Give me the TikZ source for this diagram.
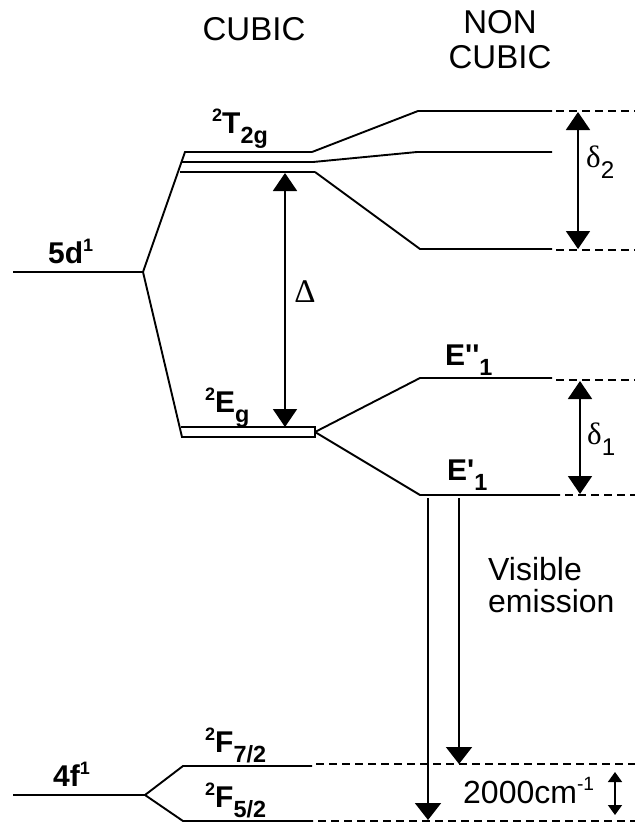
\documentclass[tikz,border=0pt]{standalone}
\usepackage{fontspec}
\usepackage{graphicx}
\setmainfont{Liberation Sans}
\newfontfamily\greekfont{Liberation Serif}
\usetikzlibrary{arrows.meta}
% raised / lowered small indices for term symbols
\newcommand{\hi}[1]{\raisebox{0.40em}{\scalebox{0.6}{#1}}}
\newcommand{\lo}[1]{\raisebox{-0.36em}{\scalebox{0.78}{#1}}}
\begin{document}
\begin{tikzpicture}[x=1pt,y=-1pt,
  level/.style={line width=1.9pt, line join=miter},
  guide/.style={line width=1.6pt, dash pattern=on 8pt off 5pt},
  gap/.style={line width=1.9pt,
    {Triangle[width=24pt,length=18pt]}-{Triangle[width=24pt,length=18pt]}},
  emit/.style={line width=1.9pt, -{Triangle[width=26pt,length=17pt]}},
  small/.style={line width=1.6pt,
    {Triangle[width=14pt,length=10pt]}-{Triangle[width=14pt,length=10pt]}},
  term/.style={font=\fontsize{30}{36}\selectfont\bfseries, inner sep=0pt, anchor=base west},
  head/.style={font=\fontsize{33}{38}\selectfont, inner sep=0pt},
  greek/.style={font=\fontsize{31}{36}\selectfont\greekfont, inner sep=0pt},
  note/.style={font=\fontsize{32}{36}\selectfont, inner sep=0pt, anchor=base west}
]
\useasboundingbox (0,0) rectangle (635,825);

% ---- column headings
\node[head] (hcub) at (254,29) {CUBIC};
\node[head] (hnon1) at (500,22) {NON};
\node[head] (hnon2) at (500,57) {CUBIC};

% ---- free-ion 5d level and its cubic splitting
\coordinate (d5a) at (13,272);  \coordinate (d5b) at (143,272);
\coordinate (t1a) at (185,152); \coordinate (t1b) at (312,152);
\coordinate (t2a) at (182,162); \coordinate (t2b) at (313,162);
\coordinate (t3a) at (180,172); \coordinate (t3b) at (315,172);
\coordinate (e1a) at (181,427); \coordinate (e1b) at (315,427);
\coordinate (e2a) at (182,437); \coordinate (e2b) at (315,437);
\coordinate (efork) at (315,432);

\draw[level] (d5a) -- (d5b);
\draw[level] (d5b) -- (t1a) -- (t1b);
\draw[level] (t2a) -- (t2b);
\draw[level] (t3a) -- (t3b);
\draw[level] (d5b) -- (e2a) -- (e2b) -- (e1b) -- (e1a);

% ---- non-cubic levels from 2T2g
\coordinate (u1a) at (418,111); \coordinate (u1b) at (552,111);
\coordinate (u2a) at (417,152); \coordinate (u2b) at (552,152);
\coordinate (u3a) at (420,249); \coordinate (u3b) at (552,249);
\coordinate (u1c) at (556,111); \coordinate (u1g) at (635,111);
\coordinate (u3c) at (556,250); \coordinate (u3g) at (635,250);
\draw[level] (t1b) -- (u1a) -- (u1b);
\draw[level] (t2b) -- (u2a) -- (u2b);
\draw[level] (t3b) -- (u3a) -- (u3b);
\draw[guide] (u1c) -- (u1g);
\draw[guide] (u3c) -- (u3g);

% ---- non-cubic levels from 2Eg
\coordinate (v1a) at (420,378); \coordinate (v1b) at (552,378);
\coordinate (v2a) at (420,495); \coordinate (v2b) at (560,495);
\coordinate (v1c) at (556,380); \coordinate (v1g) at (635,380);
\coordinate (v2c) at (565,495); \coordinate (v2g) at (635,495);
\draw[level] (efork) -- (v1a) -- (v1b);
\draw[level] (efork) -- (v2a) -- (v2b);
\draw[guide] (v1c) -- (v1g);
\draw[guide] (v2c) -- (v2g);

% ---- 4f level and spin-orbit splitting
\coordinate (f4a) at (13,795);  \coordinate (f4b) at (145,795);
\coordinate (f7a) at (183,766); \coordinate (f7b) at (312,766);
\coordinate (f5a) at (183,821); \coordinate (f5b) at (313,821);
\coordinate (f7c) at (316,764); \coordinate (f7g) at (635,764);
\coordinate (f5c) at (318,821); \coordinate (f5g) at (635,821);
\draw[level] (f4a) -- (f4b);
\draw[level] (f4b) -- (f7a) -- (f7b);
\draw[level] (f4b) -- (f5a) -- (f5b);
\draw[guide] (f7c) -- (f7g);
\draw[guide] (f5c) -- (f5g);

% ---- energy gaps
\coordinate (Dt) at (285,173);  \coordinate (Db) at (285,427);
\coordinate (s2t) at (578,112); \coordinate (s2b) at (578,249);
\coordinate (s1t) at (580,381); \coordinate (s1b) at (580,494);
\coordinate (ct) at (615,772);  \coordinate (cb) at (615,815);
\draw[gap] (Dt) -- (Db);
\draw[gap] (s2t) -- (s2b);
\draw[gap] (s1t) -- (s1b);
\draw[small] (ct) -- (cb);

% ---- emission transitions
\coordinate (m1s) at (428,498); \coordinate (m1e) at (428,820);
\coordinate (m2s) at (459,498); \coordinate (m2e) at (459,764);
\draw[emit] (m1s) -- (m1e);
\draw[emit] (m2s) -- (m2e);

% ---- labels
\node[term] (l5d) at (48,263) {5d\hi{1}};
\node[term] (lt2g) at (212,133) {\hi{2}T\lo{2g}};
\node[term] (leg) at (205,412) {\hi{2}E\lo{g}};
\node[term] (le2) at (445,365) {E\textquotesingle\textquotesingle\lo{1}};
\node[term] (le1) at (447,480) {E\textquotesingle\lo{1}};
\node[term] (l4f) at (53,786) {4f\hi{1}};
\node[term] (lf7) at (205,752) {\hi{2}F\lo{7/2}};
\node[term] (lf5) at (205,807) {\hi{2}F\lo{5/2}};

\node[greek, font=\fontsize{33}{36}\selectfont\greekfont] (lD) at (305,292) {Δ};
\node[greek, anchor=base west] (ld2) at (586,167) {δ\lo{\fontspec{Liberation Sans}2}};
\node[greek, anchor=base west] (ld1) at (587,444) {δ\lo{\fontspec{Liberation Sans}1}};

\node[note] (vis1) at (488,580) {Visible};
\node[note] (vis2) at (488,612) {emission};
\node[font=\fontsize{32}{36}\selectfont, inner sep=0pt, anchor=base west] (lcm) at (463,803) {2000cm\hi{-1}};
\end{tikzpicture}
\end{document}
